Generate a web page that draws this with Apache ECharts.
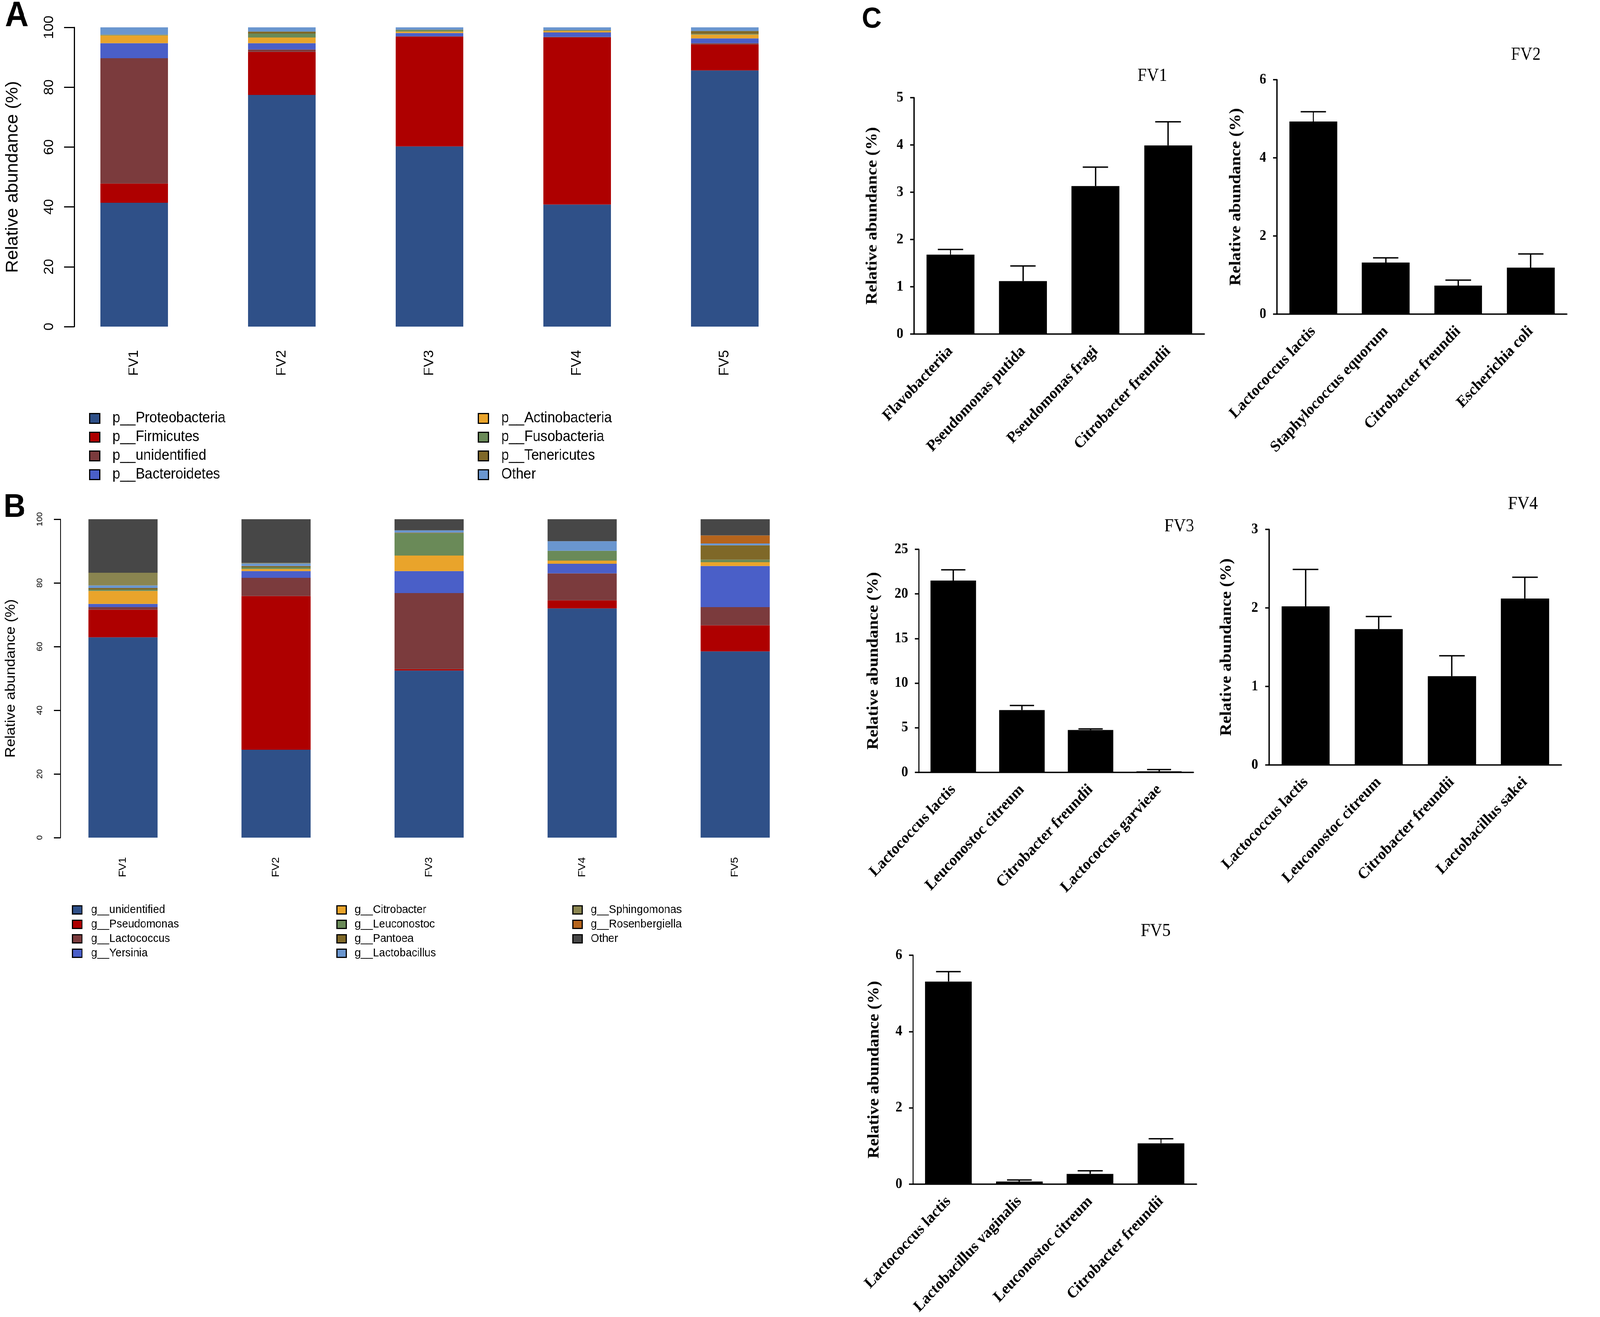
<!DOCTYPE html>
<html lang="en">
<head>
<meta charset="UTF-8">
<title>Relative abundance</title>
<script src="https://cdn.jsdelivr.net/npm/echarts@6.0.0/dist/echarts.min.js"></script>
<style>
    html, body { margin: 0; padding: 0; background: #fff; overflow: hidden; }
    #page { position: absolute; left: 0; top: 0; width: 4400px; height: 3371px; transform-origin: 0 0; }
    .layer { position: absolute; left: 0; top: 0; width: 4400px; height: 3371px; }
</style>
</head>
<body>
<div id="page">
    <div id="panelA" class="layer"></div>
    <div id="panelB" class="layer"></div>
    <div id="panelC" class="layer"></div>
</div>
<script>
    var samples = ['FV1', 'FV2', 'FV3', 'FV4', 'FV5'];
    var yTicksAB = [0, 20, 40, 60, 80, 100];

    // A: phylum level (%), one array per taxon over FV1..FV5
    var phylumNames = ['p__Proteobacteria', 'p__Firmicutes', 'p__unidentified', 'p__Bacteroidetes',
        'p__Actinobacteria', 'p__Fusobacteria', 'p__Tenericutes', 'Other'];
    var pProteobacteria = [41.4, 77.4, 60.2, 40.8, 85.6];
    var pFirmicutes = [6.4, 14.4, 36.7, 55.8, 8.7];
    var pUnidentified = [41.9, 0.8, 0.1, 0.2, 0.4];
    var pBacteroidetes = [5.0, 2.1, 1.1, 1.5, 1.6];
    var pActinobacteria = [2.6, 1.9, 0.5, 0.5, 1.3];
    var pFusobacteria = [0.2, 1.3, 0.5, 0.2, 0.2];
    var pTenericutes = [0.1, 0.7, 0.1, 0.1, 1.0];
    var pOther = [2.4, 1.4, 0.8, 0.9, 1.2];
    var phylumValues = [pProteobacteria, pFirmicutes, pUnidentified, pBacteroidetes,
        pActinobacteria, pFusobacteria, pTenericutes, pOther];
    var phylumColors = ['#2f5088', '#ae0000', '#7b3b3d', '#4a5fc8', '#e9a42b', '#6a8a58', '#7f6828', '#6a96cf'];

    // B: genus level (%)
    var genusNames = ['g__unidentified', 'g__Pseudomonas', 'g__Lactococcus', 'g__Yersinia',
        'g__Citrobacter', 'g__Leuconostoc', 'g__Pantoea', 'g__Lactobacillus',
        'g__Sphingomonas', 'g__Rosenbergiella', 'Other'];
    var gUnidentified = [62.9, 27.6, 52.5, 72.0, 58.5];
    var gPseudomonas = [8.7, 48.3, 0.4, 2.5, 8.2];
    var gLactococcus = [0.8, 5.7, 23.9, 8.5, 5.7];
    var gYersinia = [1.0, 2.1, 6.9, 3.0, 12.9];
    var gCitrobacter = [4.1, 0.7, 4.9, 1.0, 1.2];
    var gLeuconostoc = [0.4, 0.5, 7.0, 3.1, 0.8];
    var gPantoea = [0.5, 0.4, 0.2, 0.0, 4.5];
    var gLactobacillus = [0.8, 0.8, 0.7, 3.0, 0.6];
    var gSphingomonas = [4.0, 0.2, 0.0, 0.0, 0.0];
    var gRosenbergiella = [0.0, 0.0, 0.0, 0.0, 2.5];
    var gOther = [16.8, 13.7, 3.5, 6.9, 5.1];
    var genusValues = [gUnidentified, gPseudomonas, gLactococcus, gYersinia, gCitrobacter,
        gLeuconostoc, gPantoea, gLactobacillus, gSphingomonas, gRosenbergiella, gOther];
    var genusColors = ['#2f5088', '#ae0000', '#7b3b3d', '#4a5fc8', '#e9a42b', '#6a8a58',
        '#7f6828', '#6a96cf', '#8a8550', '#b5641c', '#474747'];

    // C: species abundance (%), mean and error
    var fv1Names = ['Flavobacteriia', 'Pseudomonas putida', 'Pseudomonas fragi', 'Citrobacter freundii'];
    var fv1Mean = [1.68, 1.12, 3.13, 3.99];
    var fv1Err = [0.11, 0.32, 0.40, 0.50];
    var fv2Names = ['Lactococcus lactis', 'Staphylococcus equorum', 'Citrobacter freundii', 'Escherichia coli'];
    var fv2Mean = [4.93, 1.32, 0.73, 1.19];
    var fv2Err = [0.25, 0.12, 0.14, 0.35];
    var fv3Names = ['Lactococcus lactis', 'Leuconostoc citreum', 'Citrobacter freundii', 'Lactococcus garvieae'];
    var fv3Mean = [21.5, 6.98, 4.75, 0.12];
    var fv3Err = [1.2, 0.52, 0.12, 0.20];
    var fv4Names = ['Lactococcus lactis', 'Leuconostoc citreum', 'Citrobacter freundii', 'Lactobacillus sakei'];
    var fv4Mean = [2.02, 1.73, 1.13, 2.12];
    var fv4Err = [0.47, 0.16, 0.26, 0.27];
    var fv5Names = ['Lactococcus lactis', 'Lactobacillus vaginalis', 'Leuconostoc citreum', 'Citrobacter freundii'];
    var fv5Mean = [5.31, 0.07, 0.27, 1.07];
    var fv5Err = [0.26, 0.04, 0.08, 0.12];
    var cTitles = ['FV1', 'FV2', 'FV3', 'FV4', 'FV5'];
    var cMax = [5, 6, 25, 3, 6];
    var cStep = [1, 2, 5, 1, 2];

    var SANS = '"Liberation Sans", Arial, sans-serif';
    var SERIF = '"Liberation Serif", "Times New Roman", serif';

    // the layout is laid out on a 4400x3371 sheet; fit it to the window
    var page = document.getElementById('page');
    var sx = (window.innerWidth || 4400) / 4400;
    var sy = (window.innerHeight || 3371) / 3371;
    page.style.transform = 'scale(' + sx + ',' + sy + ')';

    function textEl(txt, x, y, font) {
        return {
            type: 'text', x: x, y: y,
            style: {text: txt, font: font, fill: '#000', align: 'center', verticalAlign: 'middle',
                textAlign: 'center', textVerticalAlign: 'middle'}
        };
    }

    function stackedOption(cfg) {
        var series = cfg.names.map(function (n, i) {
            return {
                name: n, type: 'bar', stack: 'total', barWidth: cfg.barWidth,
                data: cfg.values[i], itemStyle: {color: cfg.colors[i]}
            };
        });
        var legends = cfg.legendCols.map(function (col) {
            return {
                data: cfg.names.slice(col.from, col.to), left: col.left, top: cfg.legendTop,
                orient: 'vertical', icon: 'rect', selectedMode: false,
                itemWidth: cfg.iconW, itemHeight: cfg.iconH, itemGap: cfg.legendGap,
                itemStyle: {borderColor: '#000', borderWidth: 3},
                textStyle: {fontFamily: SANS, fontSize: cfg.legendFont, color: '#000',
                    lineHeight: cfg.legendLine, padding: [0, 0, 0, col.pad]}
            };
        });
        return {
            animation: false,
            grid: cfg.grid,
            legend: legends,
            graphic: [textEl(cfg.letter, cfg.letterPos[0], cfg.letterPos[1], 'bold ' + cfg.letterSize + 'px ' + SANS)],
            xAxis: {
                type: 'category', data: samples,
                axisLine: {show: false}, axisTick: {show: false},
                axisLabel: {rotate: 90, margin: cfg.xMargin, fontFamily: SANS, fontSize: cfg.xFont, color: '#000'}
            },
            yAxis: {
                type: 'value', min: yTicksAB[0], max: yTicksAB[yTicksAB.length - 1],
                interval: yTicksAB[1] - yTicksAB[0], offset: cfg.yOffset,
                name: 'Relative abundance (%)', nameLocation: 'middle', nameGap: cfg.nameGap,
                nameTextStyle: {fontFamily: SANS, fontSize: cfg.nameFont, color: '#000'},
                axisLine: {show: true, lineStyle: {color: '#000', width: 3}},
                axisTick: {show: true, length: cfg.tickLen, lineStyle: {color: '#000', width: 3}},
                axisLabel: {rotate: 90, margin: cfg.yMargin, fontFamily: SANS, fontSize: cfg.yFont, color: '#000'},
                splitLine: {show: false}
            },
            series: series
        };
    }

    var optionA = stackedOption({
        names: phylumNames, values: phylumValues, colors: phylumColors,
        grid: {left: 166, top: 70, width: 2030, height: 766},
        barWidth: 186, yOffset: -38, nameGap: 146, nameFont: 46,
        tickLen: 28, yMargin: 50, yFont: 36, xMargin: 60, xFont: 36,
        letter: 'A', letterPos: [46, 42], letterSize: 90,
        legendTop: 1046, iconW: 28, iconH: 25, legendGap: 8, legendFont: 38, legendLine: 40,
        legendCols: [{from: 0, to: 4, left: 240, pad: 30}, {from: 4, to: 8, left: 1309, pad: 30}]
    });

    var optionB = stackedOption({
        names: genusNames, values: genusValues, colors: genusColors,
        grid: {left: 128, top: 1329, width: 2104, height: 815},
        barWidth: 190, yOffset: -38, nameGap: 116, nameFont: 38,
        tickLen: 18, yMargin: 45, yFont: 22, xMargin: 50, xFont: 28,
        letter: 'B', letterPos: [40, 1300], letterSize: 84,
        legendTop: 2309, iconW: 26, iconH: 21, legendGap: 7, legendFont: 30, legendLine: 30,
        legendCols: [{from: 0, to: 4, left: 193, pad: 20}, {from: 4, to: 8, left: 920, pad: 18},
            {from: 8, to: 11, left: 1569, pad: 18}]
    });

    // panel C layout
    var cGrids = [
        {left: 2514, top: 250, width: 798, height: 605},
        {left: 3512, top: 204, width: 797, height: 600},
        {left: 2527, top: 1406, width: 755, height: 571},
        {left: 3490, top: 1355, width: 804, height: 603},
        {left: 2511, top: 2445, width: 779, height: 586}
    ];
    var cTitlePos = [[3169, 195], [4196, 141], [3243, 1348], [4188, 1291], [3178, 2384]];
    var cNameGap = [92, 90, 102, 94, 84];
    var cNames = [fv1Names, fv2Names, fv3Names, fv4Names, fv5Names];
    var cMeans = [fv1Mean, fv2Mean, fv3Mean, fv4Mean, fv5Mean];
    var cErrs = [fv1Err, fv2Err, fv3Err, fv4Err, fv5Err];

    function renderErr(params, api) {
        var base = api.coord([api.value(0), api.value(1)]);
        var top = api.coord([api.value(0), api.value(2)]);
        var half = api.size([1, 0])[0] * 0.175;
        var st = {stroke: '#000', lineWidth: 3.5};
        return {
            type: 'group', children: [
                {type: 'line', shape: {x1: base[0], y1: base[1], x2: top[0], y2: top[1]}, style: st},
                {type: 'line', shape: {x1: top[0] - half, y1: top[1], x2: top[0] + half, y2: top[1]}, style: st}
            ]
        };
    }

    var cx = [], cy = [], cs = [];
    var cGraphic = [textEl('C', 2397, 50, 'bold 75px ' + SANS)];
    for (var i = 0; i < 5; i++) {
        cx.push({
            type: 'category', gridIndex: i, data: cNames[i],
            axisLine: {lineStyle: {color: '#000', width: 3.5}},
            axisTick: {alignWithLabel: true, length: 13, lineStyle: {color: '#000', width: 3.5}},
            axisLabel: {interval: 0, rotate: 45, margin: 38, fontFamily: SERIF, fontWeight: 'bold',
                fontSize: 41, color: '#000'}
        });
        cy.push({
            type: 'value', gridIndex: i, min: 0, max: cMax[i], interval: cStep[i],
            name: 'Relative abundance (%)', nameLocation: 'middle', nameGap: cNameGap[i],
            nameTextStyle: {fontFamily: SERIF, fontWeight: 'bold', fontSize: 44, color: '#000'},
            axisLine: {show: true, lineStyle: {color: '#000', width: 3.5}},
            axisTick: {show: true, length: 11, lineStyle: {color: '#000', width: 3.5}},
            axisLabel: {margin: 30, fontFamily: SERIF, fontWeight: 'bold', fontSize: 37, color: '#000'},
            splitLine: {show: false}
        });
        cs.push({
            type: 'bar', xAxisIndex: i, yAxisIndex: i, barWidth: '66%',
            data: cMeans[i], itemStyle: {color: '#000'}
        });
        var errData = cMeans[i].map(function (m, j) {
            return [j, m, +(m + cErrs[i][j]).toFixed(3)];
        });
        cs.push({
            type: 'custom', xAxisIndex: i, yAxisIndex: i, renderItem: renderErr,
            encode: {x: 0, y: [1, 2]}, data: errData, z: 3
        });
        cGraphic.push(textEl(cTitles[i], cTitlePos[i][0], cTitlePos[i][1], '46px ' + SERIF));
    }

    var optionC = {
        animation: false,
        grid: cGrids,
        xAxis: cx,
        yAxis: cy,
        graphic: cGraphic,
        series: cs
    };

    echarts.init(document.getElementById('panelA')).setOption(optionA);
    echarts.init(document.getElementById('panelB')).setOption(optionB);
    echarts.init(document.getElementById('panelC')).setOption(optionC);
</script>
</body>
</html>
